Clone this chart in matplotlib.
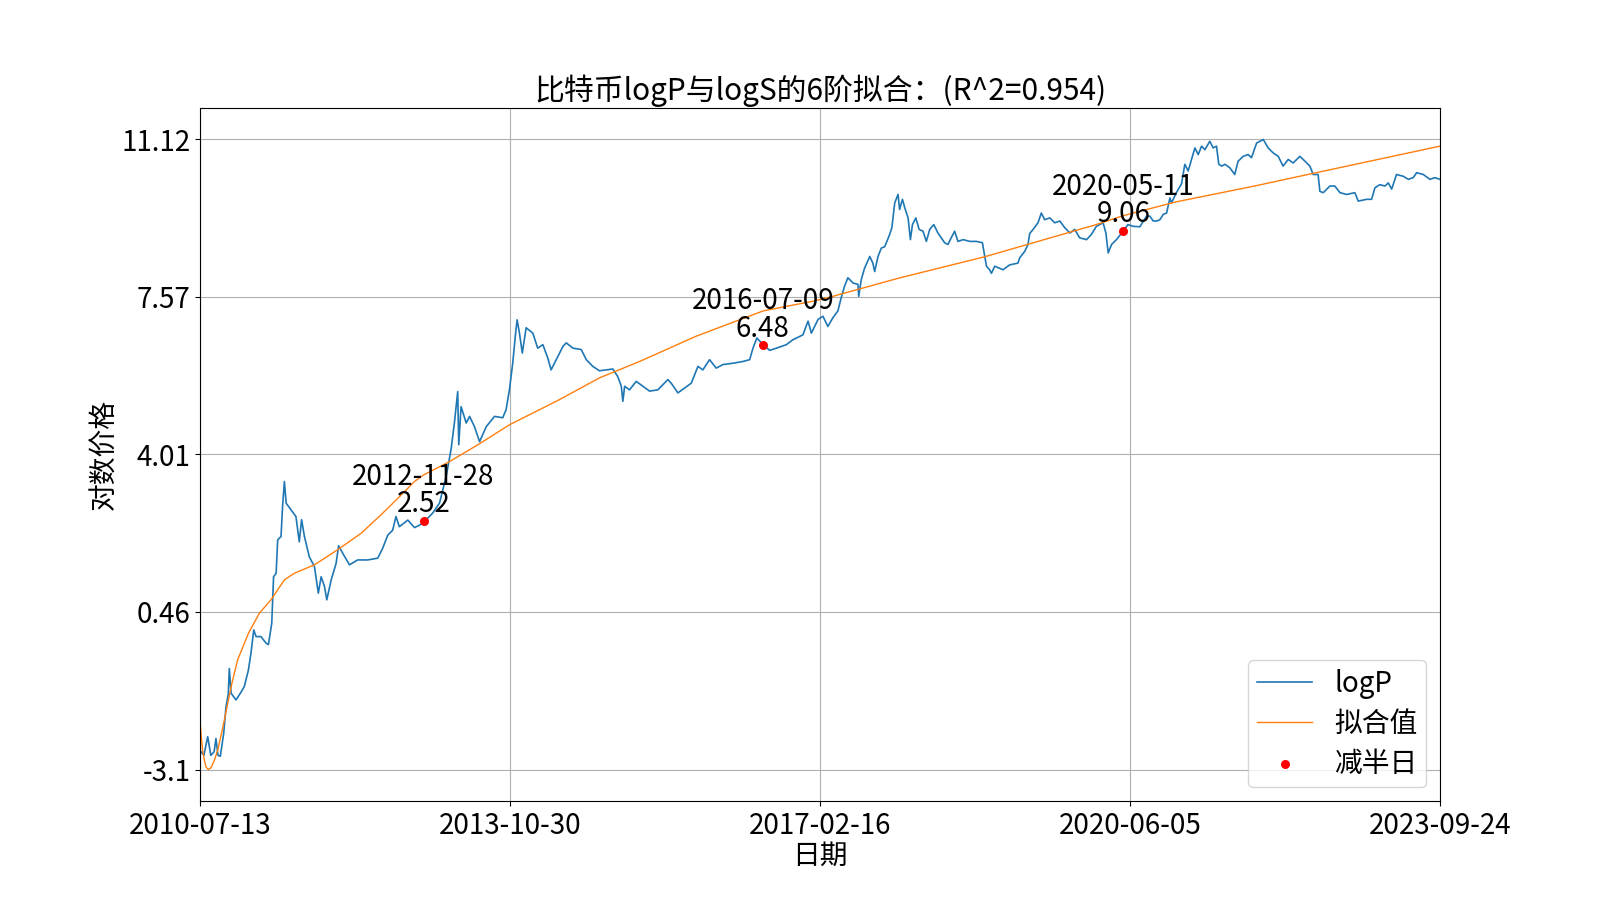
#!/usr/bin/env python3
# -*- coding: utf-8 -*-

# Import packages
import pandas as pd
import matplotlib

matplotlib.use("Agg")
import matplotlib.pyplot as plt

# DATA
start_date = "2010-07-13"
end_date = "2023-09-24"

# days after start_date and log price
logp_days = [
    0, 4, 15, 30, 42, 55, 62, 70, 79, 92, 101, 110, 114, 121, 140, 160, 172,
    188, 198, 209, 218, 237, 257, 266, 279, 286, 296, 302, 315, 321, 328, 335,
    354, 373, 386, 395, 406, 425, 445, 460, 471, 484, 493, 510, 529, 539, 555,
    581, 613, 652, 691, 710, 730, 749, 762, 775, 808, 834, 855, 873, 905, 931,
    957, 976, 989, 1002, 1006, 1015, 1035, 1048, 1067, 1087, 1113, 1145, 1177,
    1190, 1203, 1216, 1227, 1233, 1242, 1253, 1268, 1294, 1313, 1333, 1352,
    1365, 1385, 1411, 1424, 1450, 1482, 1502, 1527, 1553, 1579, 1605, 1624,
    1638, 1644, 1651, 1670, 1696, 1722, 1748, 1780, 1819, 1832, 1858, 1884,
    1910, 1936, 1955, 1981, 2007, 2033, 2072, 2111, 2137, 2150, 2165, 2189,
    2215, 2241, 2280, 2305, 2344, 2364, 2377, 2403, 2422, 2441, 2461, 2480,
    2493, 2506, 2519, 2539, 2558, 2561, 2571, 2584, 2604, 2616, 2623, 2636,
    2649, 2662, 2679, 2690, 2701, 2714, 2720, 2731, 2740, 2753, 2762, 2770,
    2783, 2796, 2811, 2824, 2837, 2853, 2869, 2895, 2908, 2917, 2934, 2947,
    2967, 2993, 3019, 3042, 3051, 3058, 3070, 3077, 3090, 3122, 3148, 3180,
    3187, 3207, 3219, 3226, 3239, 3258, 3271, 3284, 3304, 3323, 3343, 3362,
    3382, 3401, 3420, 3447, 3466, 3485, 3511, 3522, 3531, 3544, 3563, 3589,
    3608, 3628, 3654, 3680, 3693, 3706, 3719, 3732, 3745, 3758, 3771, 3777,
    3797, 3816, 3829, 3842, 3855, 3868, 3881, 3894, 3907, 3926, 3939, 3952,
    3961, 3972, 3985, 4004, 4023, 4036, 4056, 4075, 4088, 4108, 4134, 4153,
    4172, 4192, 4211, 4231, 4250, 4276, 4296, 4315, 4328, 4347, 4354, 4367,
    4393, 4412, 4432, 4458, 4490, 4503, 4536, 4555, 4568, 4587, 4607, 4620,
    4633, 4652, 4678, 4698, 4717, 4730, 4756, 4782, 4801, 4821,
]
logp_values = [
    -2.75, -2.70, -2.78, -2.36, -2.78, -2.70, -2.40, -2.78, -2.80, -2.29,
    -1.69, -1.40, -0.82, -1.38, -1.53, -1.35, -1.23, -0.86, -0.48, 0.05,
    -0.10, -0.10, -0.25, -0.28, 0.20, 1.25, 1.33, 2.08, 2.16, 2.83, 3.40,
    2.91, 2.76, 2.61, 2.04, 2.54, 2.16, 1.70, 1.48, 0.88, 1.25, 1.03, 0.73,
    1.18, 1.55, 1.95, 1.78, 1.52, 1.63, 1.63, 1.67, 1.89, 2.19, 2.30, 2.61,
    2.38, 2.53, 2.36, 2.42, 2.50, 2.69, 2.91, 3.51, 4.12, 4.72, 5.43, 4.23,
    5.09, 4.72, 4.87, 4.64, 4.30, 4.64, 4.87, 4.84, 5.02, 5.47, 6.08, 6.75,
    7.05, 6.75, 6.30, 6.87, 6.75, 6.41, 6.49, 6.19, 5.92, 6.15, 6.45, 6.53,
    6.41, 6.38, 6.15, 6.00, 5.90, 5.92, 5.94, 5.77, 5.55, 5.21, 5.55, 5.47,
    5.66, 5.55, 5.44, 5.47, 5.70, 5.62, 5.40, 5.51, 5.62, 6.00, 5.92, 6.15,
    5.96, 6.04, 6.07, 6.11, 6.15, 6.41, 6.64, 6.49, 6.36, 6.41, 6.49, 6.60,
    6.71, 7.02, 6.75, 7.06, 7.13, 6.90, 7.10, 7.25, 7.55, 7.81, 8.00, 7.88,
    7.85, 7.58, 7.96, 8.22, 8.48, 8.33, 8.14, 8.48, 8.67, 8.70, 8.94, 9.13,
    9.69, 9.88, 9.54, 9.77, 9.58, 9.35, 8.86, 9.20, 9.35, 9.09, 9.05, 8.82,
    9.09, 9.20, 9.01, 8.79, 8.75, 8.86, 9.05, 8.82, 8.86, 8.82, 8.82, 8.79,
    8.48, 8.26, 8.18, 8.10, 8.26, 8.18, 8.29, 8.33, 8.45, 8.60, 8.75, 9.00,
    9.09, 9.24, 9.46, 9.31, 9.35, 9.24, 9.28, 9.13, 9.01, 9.09, 8.90, 8.86,
    8.98, 9.16, 9.24, 9.01, 8.56, 8.75, 8.86, 9.05, 9.20, 9.16, 9.15, 9.39,
    9.39, 9.28, 9.28, 9.31, 9.43, 9.46, 9.80, 9.69, 9.93, 10.12, 10.56,
    10.41, 10.67, 10.93, 10.78, 10.97, 10.89, 11.08, 10.93, 10.97, 10.56,
    10.52, 10.56, 10.48, 10.33, 10.63, 10.74, 10.78, 10.71, 11.04, 11.12,
    10.93, 10.82, 10.74, 10.52, 10.67, 10.59, 10.74, 10.63, 10.52, 10.33,
    10.33, 9.95, 9.92, 10.07, 10.07, 9.92, 9.88, 9.92, 9.73, 9.77, 9.77,
    10.03, 10.10, 10.07, 10.14, 10.00, 10.33, 10.29, 10.22, 10.26, 10.37,
    10.33, 10.22, 10.26, 10.22,
]

# fitted curve (days after start_date, value)
fit_days = [
    0, 4, 10, 17, 23, 32, 43, 56, 69, 92, 121, 146, 188, 231, 276, 328, 367,
    445, 535, 626, 704, 769, 834, 870, 970, 1086, 1203, 1268, 1398, 1553,
    1709, 1929, 2189, 2383, 2448, 2716, 3055, 3485, 3589, 3793, 4100, 4331,
    4821,
]
fit_values = [
    -1.99, -2.29, -2.66, -2.89, -3.04, -3.10, -3.06, -2.89, -2.66, -2.06,
    -1.23, -0.63, -0.03, 0.43, 0.73, 1.18, 1.33, 1.52, 1.86, 2.23, 2.65,
    3.02, 3.40, 3.55, 3.85, 4.25, 4.68, 4.87, 5.25, 5.74, 6.11, 6.68, 7.25,
    7.47, 7.56, 7.99, 8.48, 9.20, 9.40, 9.71, 10.07, 10.36, 10.97,
]

# halving days
halving_dates = ["2012-11-28", "2016-07-09", "2020-05-11"]
halving_values = [2.52, 6.48, 9.06]

y_ticks = [-3.1, 0.46, 4.01, 7.57, 11.12]

title_text = "比特币logP与logS的6阶拟合：(R^2=0.954)"


# FUNCTIONS
def to_dates(days):
    """Convert day offsets to timestamps.

    Args:
        days (list): days after start_date
    """
    return pd.Timestamp(start_date) + pd.to_timedelta(days, unit="D")


def make_plot():
    """Function that draws and saves the chart."""
    plt.rcParams["font.family"] = ["Noto Sans CJK SC", "DejaVu Sans"]
    plt.rcParams["axes.unicode_minus"] = False

    fig, ax = plt.subplots(figsize=(16, 9), dpi=100)

    ax.plot(to_dates(logp_days), logp_values, color="#1f77b4", lw=1.2,
            label="logP")
    ax.plot(to_dates(fit_days), fit_values, color="#ff7f0e", lw=1,
            label="拟合值")

    halving_x = pd.to_datetime(halving_dates)
    ax.scatter(halving_x, halving_values, color="red", s=30, zorder=3,
               label="减半日")
    for date, value in zip(halving_x, halving_values):
        ax.annotate(
            date.strftime("%Y-%m-%d") + "\n" + str(value),
            (date, value),
            xytext=(0, 1),
            textcoords="offset points",
            ha="center",
            va="bottom",
            fontsize=20,
            linespacing=0.88,
        )

    # x axis: 5 evenly spaced dates
    x_start = pd.Timestamp(start_date)
    x_end = pd.Timestamp(end_date)
    ax.set_xlim(x_start, x_end)
    x_ticks = pd.date_range(x_start, x_end, periods=5)
    ax.set_xticks(x_ticks)
    ax.set_xticklabels([t.strftime("%Y-%m-%d") for t in x_ticks])
    ax.set_yticks(y_ticks)
    ax.set_yticklabels([str(t) for t in y_ticks])
    ax.tick_params(labelsize=20)

    ax.grid(True)
    ax.set_xlabel("日期", fontsize=20, labelpad=0)
    ax.set_ylabel("对数价格", fontsize=20, labelpad=1)
    ax.set_title(title_text, fontsize=21.5)
    ax.legend(loc="lower right", fontsize=20, labelspacing=0.36,
              borderpad=0.3)

    plt.savefig("out.png", dpi=100)
    plt.close()


if __name__ == "__main__":
    make_plot()
